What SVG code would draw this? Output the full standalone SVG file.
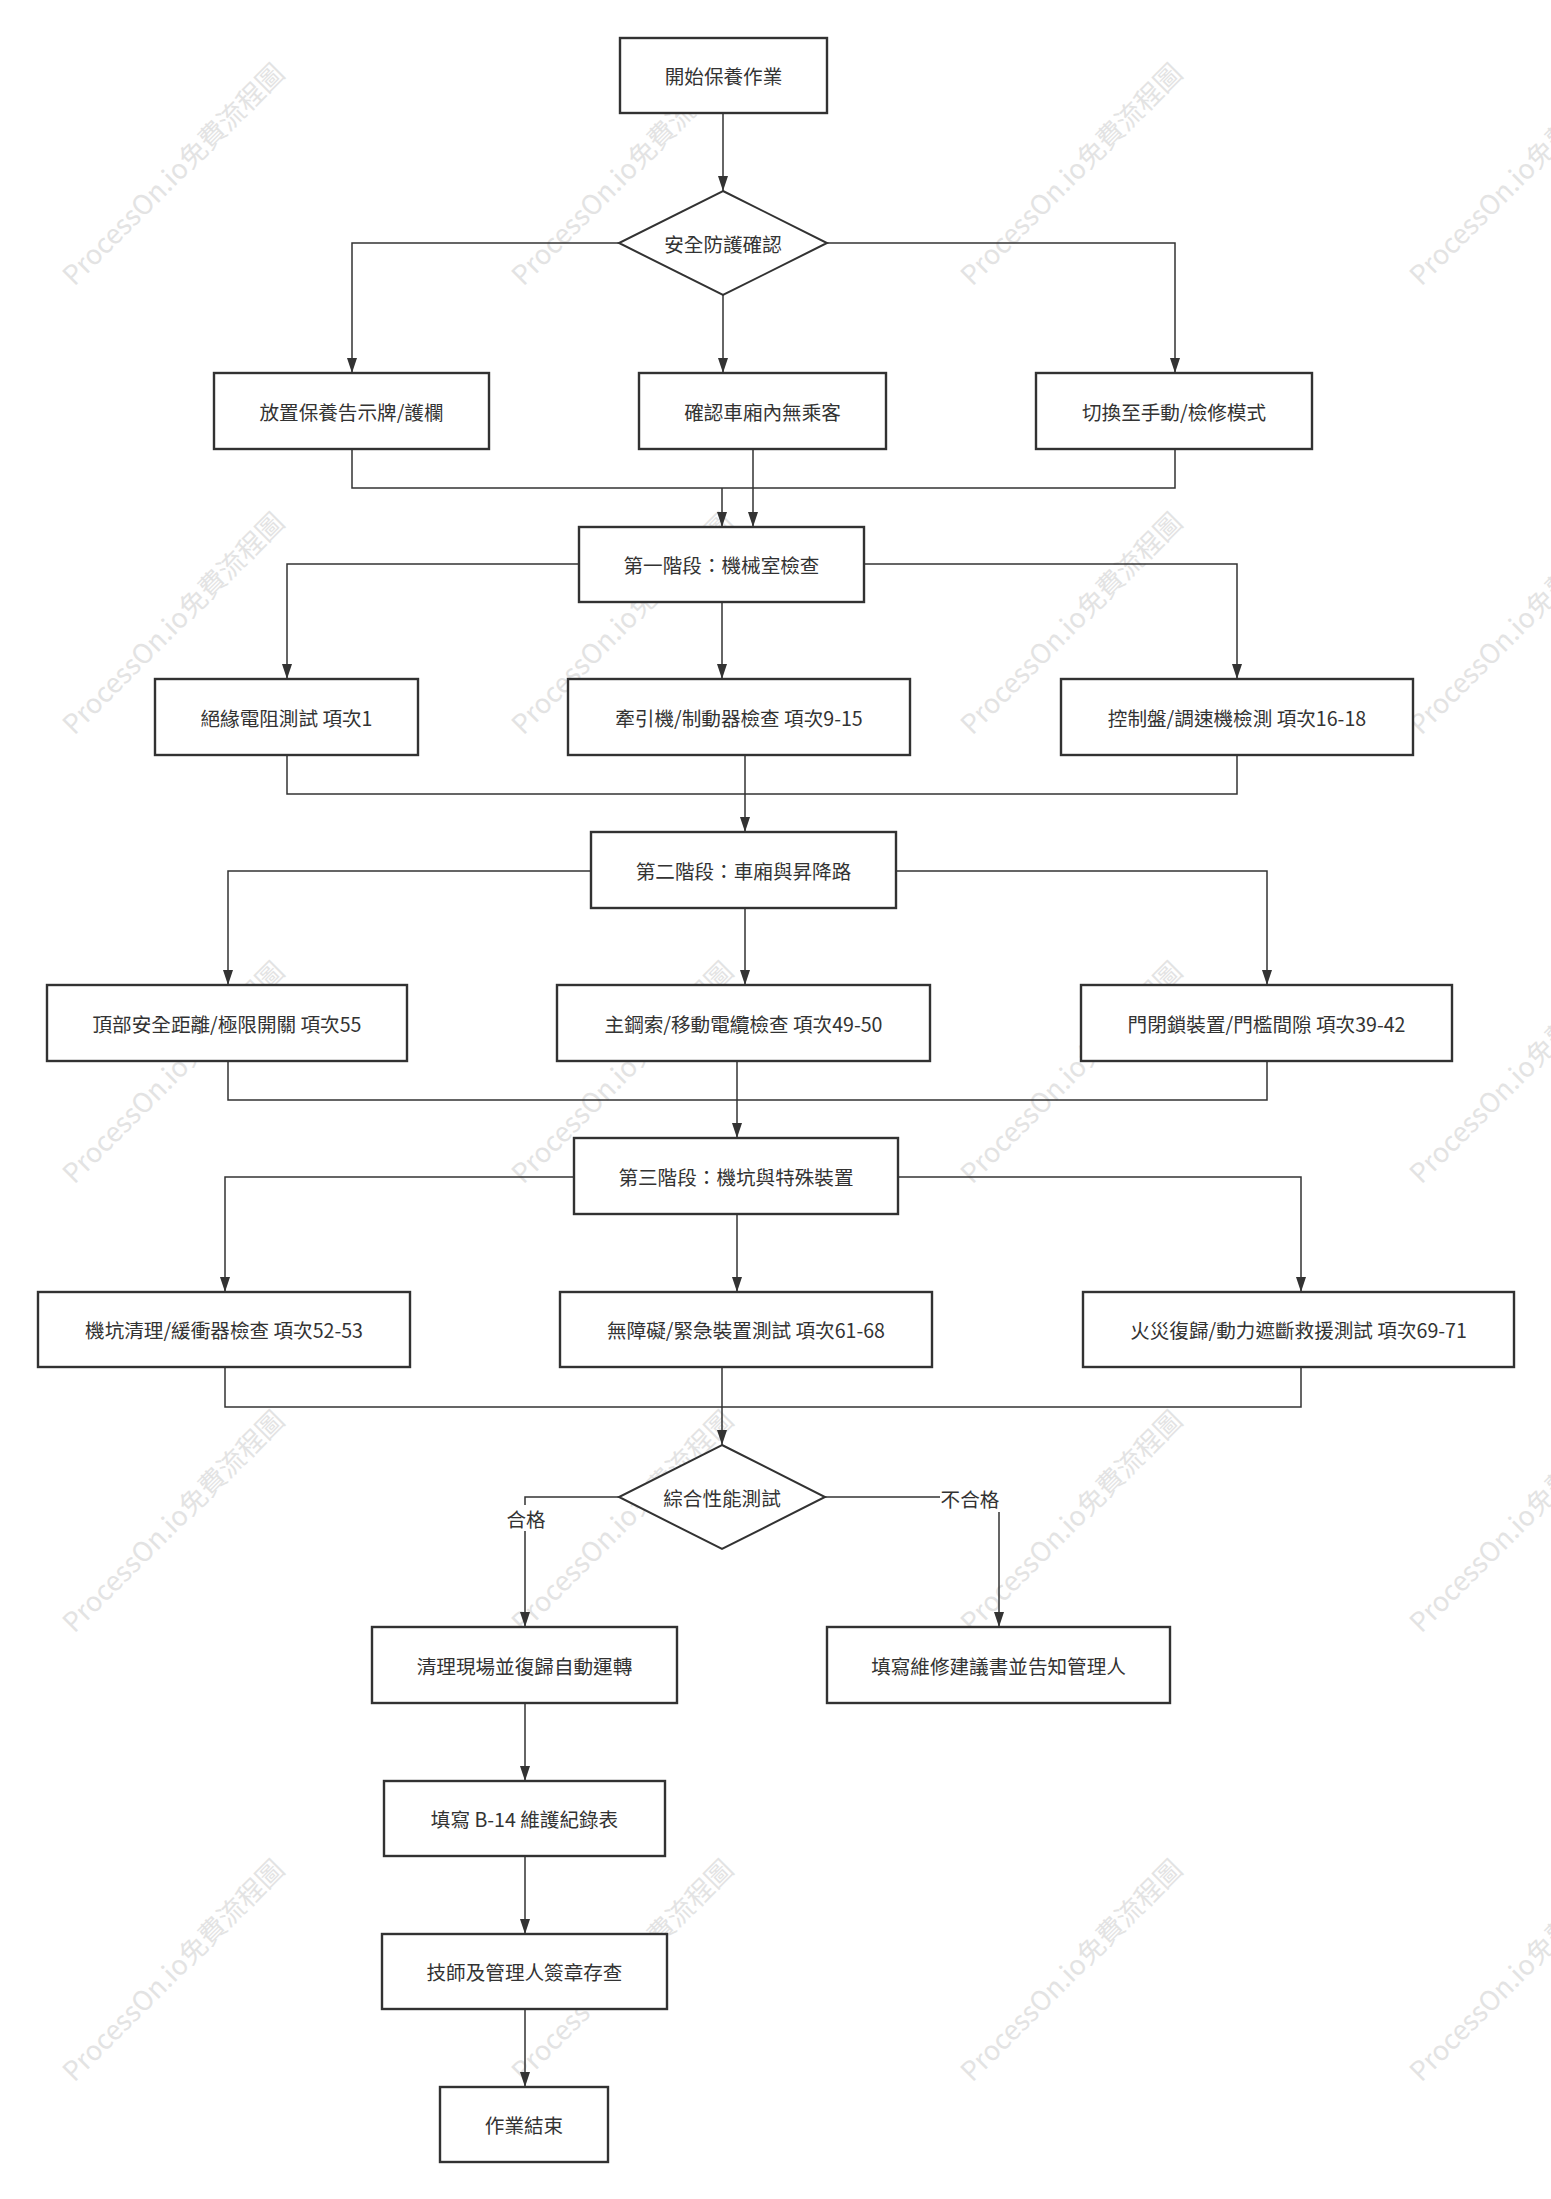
<svg xmlns="http://www.w3.org/2000/svg" width="1551" height="2199" viewBox="0 0 1551 2199">
<defs>
<style>
.bg{fill:#ffffff}
.wm{font-family:"Noto Sans CJK TC","Noto Sans",sans-serif;font-size:27px;fill:#e3e3e3;text-anchor:middle;dominant-baseline:central}
.box{fill:#ffffff;stroke:#323232;stroke-width:2.4}
.dia{fill:#ffffff;stroke:#323232;stroke-width:2}
.t{font-family:"Noto Sans CJK TC","Noto Sans",sans-serif;font-size:19.6px;fill:#333333;text-anchor:middle;dominant-baseline:central}
.c{fill:none;stroke:#333333;stroke-width:1.5}
.lb{fill:#ffffff}
</style>
<marker id="ah" viewBox="0 0 15 10" markerWidth="15" markerHeight="10" markerUnits="userSpaceOnUse" refX="15" refY="5" orient="auto">
<path d="M0,0 L15,5 L0,10 z" fill="#333333"/>
</marker>
</defs>
<rect class="bg" x="0" y="0" width="1551" height="2199"/>
<g id="watermarks">
<text class="wm" transform="translate(172,173) rotate(-45)">ProcessOn.io免費流程圖</text>
<text class="wm" transform="translate(621,173) rotate(-45)">ProcessOn.io免費流程圖</text>
<text class="wm" transform="translate(1070,173) rotate(-45)">ProcessOn.io免費流程圖</text>
<text class="wm" transform="translate(1519,173) rotate(-45)">ProcessOn.io免費流程圖</text>
<text class="wm" transform="translate(172,622) rotate(-45)">ProcessOn.io免費流程圖</text>
<text class="wm" transform="translate(621,622) rotate(-45)">ProcessOn.io免費流程圖</text>
<text class="wm" transform="translate(1070,622) rotate(-45)">ProcessOn.io免費流程圖</text>
<text class="wm" transform="translate(1519,622) rotate(-45)">ProcessOn.io免費流程圖</text>
<text class="wm" transform="translate(172,1071) rotate(-45)">ProcessOn.io免費流程圖</text>
<text class="wm" transform="translate(621,1071) rotate(-45)">ProcessOn.io免費流程圖</text>
<text class="wm" transform="translate(1070,1071) rotate(-45)">ProcessOn.io免費流程圖</text>
<text class="wm" transform="translate(1519,1071) rotate(-45)">ProcessOn.io免費流程圖</text>
<text class="wm" transform="translate(172,1520) rotate(-45)">ProcessOn.io免費流程圖</text>
<text class="wm" transform="translate(621,1520) rotate(-45)">ProcessOn.io免費流程圖</text>
<text class="wm" transform="translate(1070,1520) rotate(-45)">ProcessOn.io免費流程圖</text>
<text class="wm" transform="translate(1519,1520) rotate(-45)">ProcessOn.io免費流程圖</text>
<text class="wm" transform="translate(172,1969) rotate(-45)">ProcessOn.io免費流程圖</text>
<text class="wm" transform="translate(621,1969) rotate(-45)">ProcessOn.io免費流程圖</text>
<text class="wm" transform="translate(1070,1969) rotate(-45)">ProcessOn.io免費流程圖</text>
<text class="wm" transform="translate(1519,1969) rotate(-45)">ProcessOn.io免費流程圖</text>
</g>
<g id="connectors">
<path class="c" d="M723,113 V191" marker-end="url(#ah)"/>
<path class="c" d="M619,243 H352 V373" marker-end="url(#ah)"/>
<path class="c" d="M827,243 H1175 V373" marker-end="url(#ah)"/>
<path class="c" d="M723,295 V373" marker-end="url(#ah)"/>
<path class="c" d="M352,449 V488 H1175 V449"/>
<path class="c" d="M722,488 V527" marker-end="url(#ah)"/>
<path class="c" d="M753,449 V527" marker-end="url(#ah)"/>
<path class="c" d="M579,564 H287 V679" marker-end="url(#ah)"/>
<path class="c" d="M864,564 H1237 V679" marker-end="url(#ah)"/>
<path class="c" d="M722,602 V679" marker-end="url(#ah)"/>
<path class="c" d="M287,755 V794 H1237 V755"/>
<path class="c" d="M745,755 V832" marker-end="url(#ah)"/>
<path class="c" d="M591,871 H228 V985" marker-end="url(#ah)"/>
<path class="c" d="M896,871 H1267 V985" marker-end="url(#ah)"/>
<path class="c" d="M745,908 V985" marker-end="url(#ah)"/>
<path class="c" d="M228,1061 V1100 H1267 V1061"/>
<path class="c" d="M737,1061 V1138" marker-end="url(#ah)"/>
<path class="c" d="M574,1177 H225 V1292" marker-end="url(#ah)"/>
<path class="c" d="M898,1177 H1301 V1292" marker-end="url(#ah)"/>
<path class="c" d="M737,1214 V1292" marker-end="url(#ah)"/>
<path class="c" d="M225,1367 V1407 H1301 V1367"/>
<path class="c" d="M722,1367 V1445" marker-end="url(#ah)"/>
<path class="c" d="M619,1497 H525 V1627" marker-end="url(#ah)"/>
<path class="c" d="M825,1497 H999 V1627" marker-end="url(#ah)"/>
<path class="c" d="M525,1703 V1781" marker-end="url(#ah)"/>
<path class="c" d="M525,1856 V1934" marker-end="url(#ah)"/>
<path class="c" d="M525,2009 V2087" marker-end="url(#ah)"/>
<rect class="lb" x="506" y="1505" width="40" height="26"/>
<text class="t" x="526" y="1518">合格</text>
<rect class="lb" x="940" y="1484" width="61" height="28"/>
<text class="t" x="970" y="1498">不合格</text>
</g>
<g id="n_start"><rect class="box" x="620" y="38" width="207" height="75"/><text class="t" x="723.5" y="75.5">開始保養作業</text></g>
<g id="n_safety"><path class="dia" d="M723,191 L827,243 L723,295 L619,243 z"/><text class="t" x="723" y="243">安全防護確認</text></g>
<g id="n_sign"><rect class="box" x="214" y="373" width="275" height="76"/><text class="t" x="351.5" y="411">放置保養告示牌/護欄</text></g>
<g id="n_nopass"><rect class="box" x="639" y="373" width="247" height="76"/><text class="t" x="762.5" y="411">確認車廂內無乘客</text></g>
<g id="n_manual"><rect class="box" x="1036" y="373" width="276" height="76"/><text class="t" x="1174" y="411">切換至手動/檢修模式</text></g>
<g id="n_stage1"><rect class="box" x="579" y="527" width="285" height="75"/><text class="t" x="721.5" y="564.5">第一階段：機械室檢查</text></g>
<g id="n_insul"><rect class="box" x="155" y="679" width="263" height="76"/><text class="t" x="286.5" y="717">絕緣電阻測試 項次1</text></g>
<g id="n_traction"><rect class="box" x="568" y="679" width="342" height="76"/><text class="t" x="739" y="717">牽引機/制動器檢查 項次9-15</text></g>
<g id="n_control"><rect class="box" x="1061" y="679" width="352" height="76"/><text class="t" x="1237" y="717">控制盤/調速機檢測 項次16-18</text></g>
<g id="n_stage2"><rect class="box" x="591" y="832" width="305" height="76"/><text class="t" x="743.5" y="870">第二階段：車廂與昇降路</text></g>
<g id="n_top"><rect class="box" x="47" y="985" width="360" height="76"/><text class="t" x="227" y="1023">頂部安全距離/極限開關 項次55</text></g>
<g id="n_rope"><rect class="box" x="557" y="985" width="373" height="76"/><text class="t" x="743.5" y="1023">主鋼索/移動電纜檢查 項次49-50</text></g>
<g id="n_door"><rect class="box" x="1081" y="985" width="371" height="76"/><text class="t" x="1266.5" y="1023">門閉鎖裝置/門檻間隙 項次39-42</text></g>
<g id="n_stage3"><rect class="box" x="574" y="1138" width="324" height="76"/><text class="t" x="736" y="1176">第三階段：機坑與特殊裝置</text></g>
<g id="n_pit"><rect class="box" x="38" y="1292" width="372" height="75"/><text class="t" x="224" y="1329.5">機坑清理/緩衝器檢查 項次52-53</text></g>
<g id="n_barrier"><rect class="box" x="560" y="1292" width="372" height="75"/><text class="t" x="746" y="1329.5">無障礙/緊急裝置測試 項次61-68</text></g>
<g id="n_fire"><rect class="box" x="1083" y="1292" width="431" height="75"/><text class="t" x="1298.5" y="1329.5">火災復歸/動力遮斷救援測試 項次69-71</text></g>
<g id="n_perf"><path class="dia" d="M722,1445 L825,1497 L722,1549 L619,1497 z"/><text class="t" x="722" y="1497">綜合性能測試</text></g>
<g id="n_clean"><rect class="box" x="372" y="1627" width="305" height="76"/><text class="t" x="524.5" y="1665">清理現場並復歸自動運轉</text></g>
<g id="n_repair"><rect class="box" x="827" y="1627" width="343" height="76"/><text class="t" x="998.5" y="1665">填寫維修建議書並告知管理人</text></g>
<g id="n_b14"><rect class="box" x="384" y="1781" width="281" height="75"/><text class="t" x="524.5" y="1818.5">填寫 B-14 維護紀錄表</text></g>
<g id="n_signoff"><rect class="box" x="382" y="1934" width="285" height="75"/><text class="t" x="524.5" y="1971.5">技師及管理人簽章存查</text></g>
<g id="n_end"><rect class="box" x="440" y="2087" width="168" height="75"/><text class="t" x="524" y="2124.5">作業結束</text></g>
</svg>
